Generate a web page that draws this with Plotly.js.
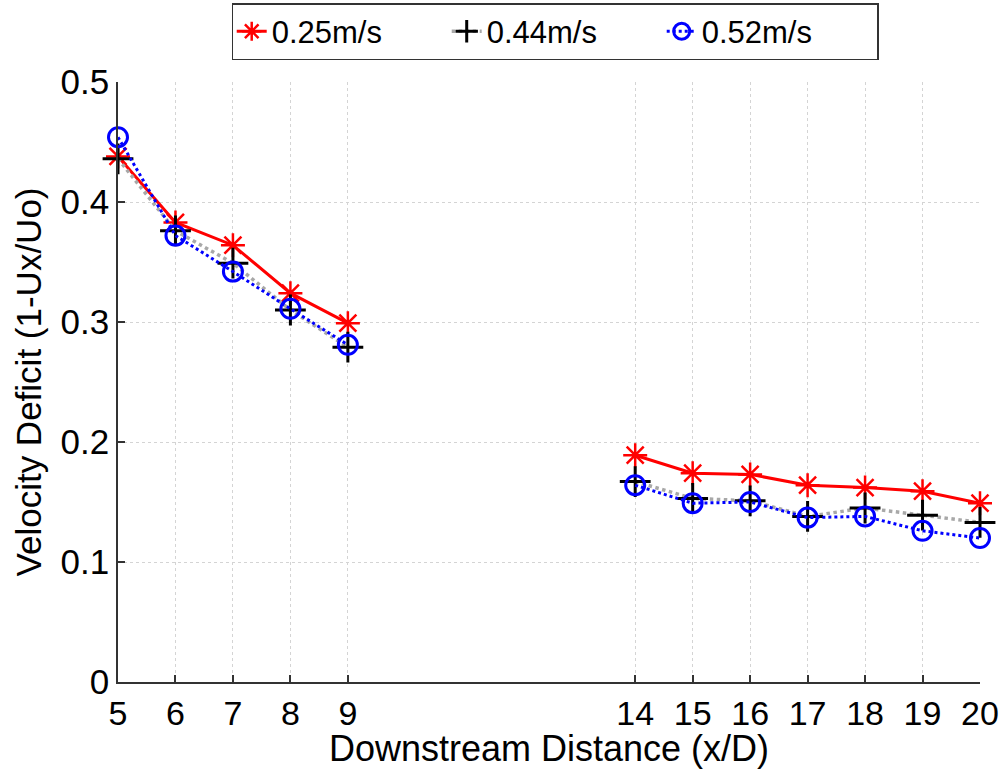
<!DOCTYPE html>
<html>
<head>
<meta charset="utf-8">
<script src="https://cdn.plot.ly/plotly-3.0.1.min.js"></script>
<style>
  html, body { margin: 0; padding: 0; background: #ffffff; }
  #chart { width: 1004px; height: 769px; }
</style>
</head>
<body>
<div id="chart"></div>
<script>
// Downstream positions (x/D) for the near-wake and far-wake measurement stations
const nearX = [5, 6, 7, 8, 9];
const farX = [14, 15, 16, 17, 18, 19, 20];
const xTicks = [5, 6, 7, 8, 9, 14, 15, 16, 17, 18, 19, 20];
const yTicks = [0, 0.1, 0.2, 0.3, 0.4, 0.5];

// Velocity deficit (1 - Ux/Uo) per inflow speed
const speedLabels = ['0.25m/s', '0.44m/s', '0.52m/s'];
const near025 = [0.438, 0.383, 0.364, 0.324, 0.299];
const far025 = [0.189, 0.174, 0.173, 0.164, 0.162, 0.159, 0.149];
const near044 = [0.436, 0.376, 0.349, 0.310, 0.279];
const far044 = [0.167, 0.153, 0.151, 0.138, 0.145, 0.139, 0.133];
const near052 = [0.454, 0.372, 0.342, 0.311, 0.281];
const far052 = [0.164, 0.149, 0.150, 0.137, 0.138, 0.126, 0.120];

const styles = [
  { line: { color: '#ff0000', width: 3 },
    marker: { symbol: 'asterisk-open', size: 20, color: '#ff0000', line: { color: '#ff0000', width: 2.5 } } },
  { line: { color: '#a8a8a8', width: 3.5, dash: 'dot' },
    marker: { symbol: 'cross-thin-open', size: 22, color: '#000000', line: { color: '#000000', width: 3 } } },
  { line: { color: '#0000ff', width: 3, dash: 'dot' },
    marker: { symbol: 'circle-open', size: 19, color: '#0000ff', line: { color: '#0000ff', width: 3 } } }
];

const series = [
  [near025, far025],
  [near044, far044],
  [near052, far052]
];

const traces = [];
series.forEach((pair, i) => {
  [nearX, farX].forEach((xs, j) => {
    traces.push({
      type: 'scatter',
      mode: 'lines+markers',
      x: xs,
      y: pair[j],
      name: speedLabels[i],
      legendgroup: speedLabels[i],
      showlegend: j === 0,
      cliponaxis: false,
      line: styles[i].line,
      marker: styles[i].marker
    });
  });
});

const font = 'Liberation Sans, Arial, Helvetica, sans-serif';

const layout = {
  width: 1004,
  height: 769,
  paper_bgcolor: '#ffffff',
  plot_bgcolor: '#ffffff',
  margin: { l: 118, r: 24, t: 82, b: 87, autoexpand: false },
  font: { family: font, color: '#000000' },
  showlegend: true,
  legend: {
    orientation: 'h',
    xref: 'container', yref: 'container',
    x: 0.553, xanchor: 'center',
    y: 0.996, yanchor: 'top',
    bgcolor: '#ffffff',
    bordercolor: '#333333',
    borderwidth: 1.5,
    font: { size: 31, family: font },
    entrywidth: 170,
    tracegroupgap: 0
  },
  xaxis: {
    range: [5, 20],
    tickvals: xTicks,
    ticktext: xTicks.map(String),
    ticks: 'inside',
    ticklen: 7,
    tickwidth: 1.5,
    tickcolor: '#333333',
    showline: true,
    linecolor: '#333333',
    linewidth: 1.5,
    mirror: false,
    zeroline: false,
    showgrid: true,
    gridcolor: '#d4d4d4',
    griddash: 'dot',
    gridwidth: 1,
    tickfont: { size: 34, family: font },
    title: { text: 'Downstream Distance (x/D)', font: { size: 36, family: font }, standoff: 11 }
  },
  yaxis: {
    range: [0, 0.5],
    tickvals: yTicks,
    ticktext: ['0', '0.1', '0.2', '0.3', '0.4', '0.5'],
    ticks: 'inside',
    ticklen: 7,
    tickwidth: 1.5,
    tickcolor: '#333333',
    showline: true,
    linecolor: '#333333',
    linewidth: 1.5,
    mirror: false,
    zeroline: false,
    showgrid: true,
    gridcolor: '#d4d4d4',
    griddash: 'dot',
    gridwidth: 1,
    tickfont: { size: 35, family: font },
    title: { text: 'Velocity Deficit (1-Ux/Uo)', font: { size: 35, family: font }, standoff: 8 }
  }
};

Plotly.newPlot('chart', traces, layout, { displayModeBar: false, responsive: false });
</script>
</body>
</html>
